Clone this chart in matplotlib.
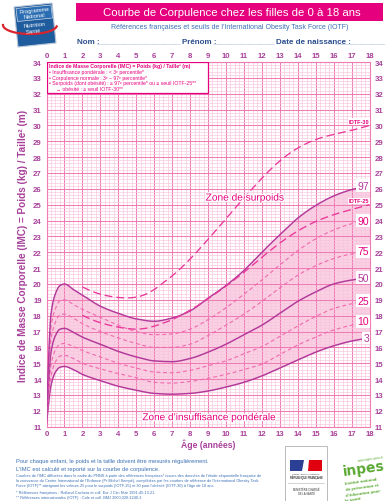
import numpy as np
import matplotlib
matplotlib.use("Agg")
import matplotlib.pyplot as plt
from matplotlib import font_manager
from matplotlib.patches import Rectangle, Polygon
from matplotlib.ticker import MultipleLocator
import matplotlib.patheffects as pe

# ---------------- data ----------------
ages_pct = [0, 0.25, 0.5, 0.75, 1, 1.5, 2, 3, 4, 5, 6, 7, 8, 9, 10, 11, 12, 13, 14, 15, 16, 17, 18]
p3  = [11.2, 13.6, 14.45, 14.75, 14.8, 14.6, 14.3, 13.9, 13.55, 13.3, 13.1, 13.05, 13.1, 13.25, 13.5, 13.8, 14.2, 14.7, 15.2, 15.7, 16.1, 16.4, 16.6]
p10 = [11.3, 14.2, 15.1, 15.45, 15.5, 15.3, 15.0, 14.65, 14.35, 14.1, 13.8, 13.75, 13.85, 14.05, 14.3, 14.6, 14.95, 15.55, 16.15, 16.65, 17.1, 17.4, 17.65]
p25 = [11.4, 14.9, 15.85, 16.2, 16.25, 16.05, 15.8, 15.4, 15.0, 14.7, 14.45, 14.4, 14.55, 14.85, 15.15, 15.6, 16.05, 16.7, 17.35, 17.95, 18.45, 18.75, 18.95]
p50 = [11.5, 15.7, 16.75, 17.15, 17.2, 16.95, 16.65, 16.2, 15.75, 15.4, 15.15, 15.1, 15.3, 15.7, 16.2, 16.8, 17.4, 18.15, 18.9, 19.5, 20.0, 20.25, 20.4]
p75 = [11.6, 16.5, 17.6, 18.05, 18.1, 17.85, 17.5, 17.0, 16.6, 16.25, 16.0, 16.0, 16.2, 16.75, 17.4, 18.1, 18.9, 19.75, 20.55, 21.15, 21.6, 21.9, 22.05]
p90 = [11.7, 17.3, 18.45, 18.95, 19.0, 18.7, 18.4, 17.9, 17.4, 17.0, 16.8, 16.85, 17.15, 17.75, 18.5, 19.35, 20.25, 21.2, 22.1, 22.85, 23.4, 23.8, 24.0]
p97 = [11.8, 18.1, 19.4, 19.9, 20.0, 19.65, 19.3, 18.6, 18.15, 17.8, 17.65, 17.85, 18.3, 19.1, 19.9, 20.85, 22.0, 23.1, 24.15, 24.95, 25.55, 25.95, 26.2]

ages_iotf = [2, 2.5, 3, 3.5, 4, 4.5, 5, 5.5, 6, 6.5, 7, 7.5, 8, 8.5, 9, 9.5, 10, 10.5, 11, 11.5,
             12, 12.5, 13, 13.5, 14, 14.5, 15, 15.5, 16, 16.5, 17, 17.5, 18]
iotf25 = [18.02, 17.76, 17.56, 17.40, 17.28, 17.19, 17.15, 17.20, 17.34, 17.53, 17.75, 18.03, 18.35, 18.69,
          19.07, 19.45, 19.86, 20.29, 20.74, 21.20, 21.68, 22.14, 22.58, 22.98, 23.34, 23.66, 23.94, 24.17,
          24.37, 24.54, 24.70, 24.85, 25.00]
iotf30 = [19.81, 19.55, 19.36, 19.23, 19.15, 19.12, 19.17, 19.34, 19.65, 20.08, 20.51, 21.01, 21.57, 22.18,
          22.81, 23.46, 24.11, 24.77, 25.42, 26.05, 26.67, 27.24, 27.76, 28.20, 28.57, 28.87, 29.11, 29.29,
          29.43, 29.56, 29.69, 29.84, 30.00]

x_ticks = list(range(0, 19))
y_ticks = list(range(11, 35))

# ---------------- fonts ----------------
avail = {f.name for f in font_manager.fontManager.ttflist}
NARROW = 'Liberation Sans Narrow' if 'Liberation Sans Narrow' in avail else 'Liberation Sans'
FAM = [NARROW, 'DejaVu Sans']
plt.rcParams['font.family'] = FAM

MAG = '#e5007e'
PURP = '#a8409a'
SOLID = '#b2389a'
DASHC = '#f06aae'
BLUE = '#3a6fb5'
NAVY = '#2c4e8c'


def pchip(x, y, xn):
    x = np.asarray(x, float); y = np.asarray(y, float)
    h = np.diff(x); d = np.diff(y) / h
    m = np.zeros_like(y)
    for k in range(1, len(x) - 1):
        if d[k - 1] * d[k] > 0:
            w1 = 2 * h[k] + h[k - 1]; w2 = h[k] + 2 * h[k - 1]
            m[k] = (w1 + w2) / (w1 / d[k - 1] + w2 / d[k])
    m[0] = d[0]; m[-1] = d[-1]
    idx = np.clip(np.searchsorted(x, xn, side='right') - 1, 0, len(h) - 1)
    t = (xn - x[idx]) / h[idx]
    h00 = 2 * t**3 - 3 * t**2 + 1; h10 = t**3 - 2 * t**2 + t
    h01 = -2 * t**3 + 3 * t**2; h11 = t**3 - t**2
    return h00 * y[idx] + h10 * h[idx] * m[idx] + h01 * y[idx + 1] + h11 * h[idx] * m[idx + 1]


W, H = 389, 502
fig = plt.figure(figsize=(W / 100, H / 100), dpi=100)
fig.patch.set_facecolor('white')


def fx(px):
    return px / W


def fy(py):
    return 1 - py / H


ax = fig.add_axes([fx(46.5), fy(427.7), (369.5 - 46.5) / W, (427.7 - 63) / H])
ax.set_xlim(0, 18)
ax.set_ylim(11, 34)
ax.set_axisbelow('line')
ax.xaxis.set_major_locator(MultipleLocator(1))
ax.xaxis.set_minor_locator(MultipleLocator(0.25))
ax.yaxis.set_major_locator(MultipleLocator(1))
ax.yaxis.set_minor_locator(MultipleLocator(0.2))
ax.grid(which='major', color='#f07cb4', lw=0.75)
ax.grid(which='minor', color='#f8c4dc', lw=0.45)
ax.set_xticks(x_ticks)
ax.set_yticks(y_ticks)
ax.tick_params(which='both', length=0, top=True, right=True, labeltop=True, labelright=True,
               labelsize=5.6, labelcolor=PURP)
ax.tick_params(axis='x', pad=2.5)
ax.tick_params(axis='y', pad=3.5)
for lab in ax.get_xticklabels() + ax.get_yticklabels():
    lab.set_fontweight('bold')
for s in ax.spines.values():
    s.set_color('#f07cb4'); s.set_linewidth(0.8)

xs = np.linspace(0, 18, 600)
xi = np.linspace(2, 18, 400)
s3 = pchip(ages_pct, p3, xs)
s97 = pchip(ages_pct, p97, xs)
ax.fill_between(xs, s3, s97, color='#fad0e4', lw=0, zorder=1)

for vals, solid in [(p3, True), (p10, False), (p25, False), (p50, True), (p75, False), (p90, False), (p97, True)]:
    ys = pchip(ages_pct, vals, xs)
    if solid:
        ax.plot(xs, ys, color=SOLID, lw=1.05, zorder=3)
    else:
        ax.plot(xs, ys, color=DASHC, lw=0.8, dashes=(3.5, 2.5), zorder=3)

ax.plot(xi, pchip(ages_iotf, iotf25, xi), color='#e8379a', lw=0.95, dashes=(6, 3), zorder=3)
ax.plot(xi, pchip(ages_iotf, iotf30, xi), color='#e8379a', lw=0.95, dashes=(6, 3), zorder=3)

# curve labels
for vals, txt, col in [(p97, '97', SOLID), (p90, '90', MAG), (p75, '75', MAG), (p50, '50', SOLID),
                       (p25, '25', MAG), (p10, '10', MAG), (p3, '3', SOLID)]:
    ax.text(17.97, vals[-1], txt, ha='right', va='center', fontsize=7.5, color=col, zorder=6,
            bbox=dict(boxstyle='square,pad=0.12', fc='white', ec='none'))
ax.text(17.4, iotf30[-1] + 0.25, 'IOTF-30', ha='center', va='center', fontsize=4.0, color=MAG,
        fontweight='bold', zorder=6, bbox=dict(boxstyle='square,pad=0.1', fc='white', ec='none'))
ax.text(17.4, iotf25[-1] + 0.25, 'IOTF-25', ha='center', va='center', fontsize=4.0, color=MAG,
        fontweight='bold', zorder=6, bbox=dict(boxstyle='square,pad=0.1', fc='white', ec='none'))

# zone labels
stroke = [pe.withStroke(linewidth=1.8, foreground='white')]
ax.text(11.05, 25.45, 'Zone de surpoids', ha='center', va='center', fontsize=7.3, color=MAG,
        zorder=6, path_effects=stroke)
ax.text(9.05, 11.6, "Zone d\u2019insuffisance pondérale", ha='center', va='center', fontsize=7.2,
        color=MAG, zorder=6, path_effects=stroke)

# legend box
ax.add_patch(Rectangle((0, 32.02), 9.0, 1.98, fc='white', ec=MAG, lw=0.9, zorder=5))
leg_lines = [
    "Indice de Masse Corporelle (IMC) = Poids (kg) / Taille\u00b2 (m)",
    "\u2022 Insuffisance pondérale : < 3\u1d49 percentile*",
    "\u2022 Corpulence normale : 3\u1d49 \u2013 97\u1d49 percentile*",
    "\u2022 Surpoids (dont obésité) : \u2265 97\u1d49 percentile* ou \u2265 seuil IOTF-25**",
    "     \u2192 obésité : \u2265 seuil IOTF-30**",
]
for i, (t, yv) in enumerate(zip(leg_lines, [33.75, 33.4, 33.05, 32.7, 32.36])):
    ax.text(0.12, yv, t, ha='left', va='center', fontsize=3.7, color=MAG, zorder=6,
            fontweight='bold' if i == 0 else 'normal')

# axis labels
fig.text(fx(23), fy(246), "Indice de Masse Corporelle (IMC) = Poids (kg) / Taille\u00b2 (m)", rotation=90,
         ha='center', va='center', fontsize=7.2, color=PURP, fontweight='bold')
fig.text(fx(208), fy(444.5), "Âge (années)", ha='center', va='center', fontsize=6.2, color=PURP,
         fontweight='bold')

# ---------------- header ----------------
fig.patches.append(Rectangle((fx(76), fy(22)), (383 - 76) / W, 18 / H, transform=fig.transFigure,
                             fc=MAG, ec='none'))
fig.text(fx(232), fy(13.2), "Courbe de Corpulence chez les filles de 0 à 18 ans", ha='center', va='center',
         fontsize=8.2, color='white')
fig.text(fx(230), fy(27.5), "Références françaises et seuils de l\u2019International Obesity Task Force (IOTF)",
         ha='center', va='center', fontsize=5.0, color=BLUE)
fig.text(fx(77), fy(42), "Nom :", ha='left', va='center', fontsize=5.8, color=NAVY, fontweight='bold')
fig.text(fx(182), fy(42), "Prénom :", ha='left', va='center', fontsize=5.8, color=NAVY, fontweight='bold')
fig.text(fx(276), fy(42), "Date de naissance :", ha='left', va='center', fontsize=5.8, color=NAVY,
         fontweight='bold')
for a, b in [(97, 180), (213, 274), (335, 385)]:
    fig.lines.append(plt.Line2D([fx(a), fx(b)], [fy(44.5), fy(44.5)], transform=fig.transFigure,
                                color='#9fb4d6', lw=0.5, ls=(0, (1, 0.6))))

# PNNS logo
logo = Polygon([[fx(14), fy(8)], [fx(52), fy(4)], [fx(56), fy(44)], [fx(18), fy(48)]], closed=True,
               transform=fig.transFigure, fc='#1f5c9e', ec='#b9c7d8', lw=0.8)
fig.patches.append(logo)
fig.patches.append(Polygon([[fx(16), fy(9.5)], [fx(51), fy(6)], [fx(52.5), fy(19)], [fx(17.5), fy(22.5)]],
                           closed=True, transform=fig.transFigure, fc='#2a6db3', ec='#d0d8e4', lw=0.5))
fig.text(fx(34), fy(10.5), "Programme", ha='center', va='center', fontsize=4.2, color='white', rotation=6)
fig.text(fx(34), fy(16.5), "National", ha='center', va='center', fontsize=4.2, color='white', rotation=6)
fig.text(fx(34.5), fy(25.5), "Nutrition", ha='center', va='center', fontsize=4.2, color='white', rotation=6)
fig.text(fx(33), fy(31.5), "Santé", ha='center', va='center', fontsize=4.2, color='white', rotation=6)
tt = np.linspace(0, np.pi * 0.95, 50)
fig.lines.append(plt.Line2D(fx(30 + 27 * np.cos(tt + np.pi * 0.05)), fy(26 + 9 * np.sin(tt + np.pi * 0.05)),
                            transform=fig.transFigure, color='#d9232d', lw=1.6))

# ---------------- footer ----------------
fig.text(fx(16), fy(461.7), "Pour chaque enfant, le poids et la taille doivent être mesurés régulièrement.",
         ha='left', va='center', fontsize=4.15, color=BLUE)
fig.text(fx(16), fy(469.7), "L\u2019IMC est calculé et reporté sur la courbe de corpulence.",
         ha='left', va='center', fontsize=4.15, color=BLUE)
small = [
    (476.0, "Courbes de l\u2019IMC diffusées dans le cadre du PNNS à partir des références françaises* issues des données de l\u2019étude séquentielle française de"),
    (480.8, "la croissance du Centre International de l\u2019Enfance (Pr Michel Sempé), complétées par les courbes de référence de l\u2019International Obesity Task"),
    (485.6, "Force (IOTF)** atteignant les valeurs 25 pour le surpoids (IOTF-25) et 30 pour l\u2019obésité (IOTF-30) à l\u2019âge de 18 ans."),
    (492.8, "* Références françaises : Rolland Cachera et coll. Eur J Clin Nutr 1991;45:13-21."),
    (498.2, "** Références internationales (IOTF) : Cole et coll. BMJ 2000;320:1240-3."),
]
for yv, t in small:
    fig.text(fx(16), fy(yv), t, ha='left', va='center', fontsize=2.8, color=BLUE)

# RF logo
fig.patches.append(Rectangle((fx(285), fy(503)), 42 / W, 56 / H, transform=fig.transFigure,
                             fc='white', ec='#b0b0b0', lw=0.6))
fig.patches.append(Polygon([[fx(290), fy(461)], [fx(304), fy(461)], [fx(302), fy(472)], [fx(290), fy(472)]],
                           closed=True, transform=fig.transFigure, fc='#2b3f95', ec='none'))
fig.patches.append(Polygon([[fx(309), fy(461)], [fx(322), fy(461)], [fx(322), fy(472)], [fx(308), fy(472)]],
                           closed=True, transform=fig.transFigure, fc='#e1000f', ec='none'))
fig.text(fx(306), fy(474.5), "Liberté \u2022 Égalité \u2022 Fraternité", ha='center', va='center', fontsize=1.6,
         color='#333333')
fig.text(fx(306), fy(478), "RÉPUBLIQUE FRANÇAISE", ha='center', va='center', fontsize=1.9, color='#333333',
         fontweight='bold')
fig.lines.append(plt.Line2D([fx(288), fx(324)], [fy(483.5), fy(483.5)], transform=fig.transFigure,
                            color='#b0b0b0', lw=0.4))
fig.text(fx(306), fy(490), "MINISTÈRE CHARGÉ", ha='center', va='center', fontsize=1.9, color='#333333')
fig.text(fx(306), fy(494), "DE LA SANTÉ", ha='center', va='center', fontsize=1.9, color='#333333')

# INPES logo
GREEN = '#5aa832'
fig.text(fx(370), fy(459), "www.inpes.sante.fr", ha='center', va='center', fontsize=2.2, color=GREEN, rotation=8)
fig.text(fx(364), fy(469), "inpes", ha='center', va='center', fontsize=10, color=GREEN,
         fontweight='bold', rotation=8, family='DejaVu Sans')
for yv, t in [(482, "Institut national"), (488, "de prévention et"), (494, "d\u2019éducation pour"), (499.5, "la santé")]:
    fig.text(fx(345), fy(yv), t, ha='left', va='center', fontsize=3.2, color=GREEN, rotation=8,
             fontweight='bold')

fig.savefig('out.png', dpi=100)
